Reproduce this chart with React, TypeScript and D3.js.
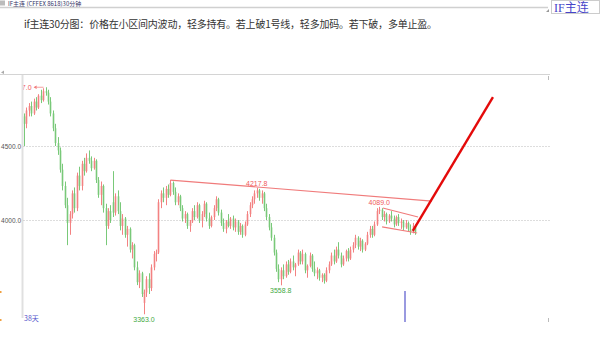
import React from "react";
import * as d3 from "d3";

// [open, high, low, close] per 30-minute bar
const candles: [number, number, number, number][] = [
  [4700, 4720, 4500, 4650], [4650, 4760, 4620, 4740], [4740, 4790, 4700, 4770], [4770, 4800, 4700, 4720],
  [4720, 4820, 4710, 4800], [4800, 4830, 4740, 4760], [4760, 4850, 4750, 4840], [4840, 4880, 4790, 4810],
  [4810, 4890, 4800, 4870], [4870, 4897, 4840, 4860], [4860, 4880, 4780, 4800], [4800, 4830, 4700, 4720],
  [4720, 4740, 4600, 4620], [4620, 4650, 4500, 4520], [4520, 4560, 4440, 4470], [4470, 4490, 4320, 4340],
  [4340, 4380, 4200, 4230], [4230, 4260, 4080, 4100], [4100, 4150, 3830, 3980], [3980, 4060, 3900, 4040],
  [4040, 4200, 4010, 4180], [4180, 4220, 4050, 4080], [4080, 4320, 4060, 4300], [4300, 4360, 4200, 4230],
  [4230, 4400, 4200, 4380], [4380, 4420, 4300, 4330], [4330, 4450, 4320, 4420], [4420, 4470, 4380, 4400],
  [4400, 4430, 4330, 4350], [4350, 4420, 4340, 4400], [4400, 4410, 4250, 4270], [4270, 4290, 4150, 4170],
  [4170, 4260, 4100, 4230], [4230, 4240, 4050, 4080], [4080, 4110, 3830, 3960], [3960, 4080, 3940, 4060],
  [4060, 4100, 3980, 4000], [4120, 4330, 4020, 4050], [4050, 4180, 4030, 4160], [4160, 4200, 4040, 4060],
  [4060, 4120, 3930, 3960], [3960, 4040, 3900, 4010], [4010, 4020, 3880, 3900], [3900, 3960, 3820, 3940],
  [3940, 3950, 3780, 3800], [3800, 3850, 3740, 3830], [3830, 3840, 3660, 3680], [3680, 3720, 3560, 3580],
  [3580, 3660, 3540, 3640], [3640, 3650, 3480, 3500], [3440, 3530, 3363, 3510], [3510, 3620, 3480, 3600],
  [3600, 3640, 3500, 3540], [3540, 3700, 3520, 3680], [3680, 3790, 3660, 3770], [3770, 3800, 3720, 3780],
  [3780, 4140, 3770, 4120], [4120, 4200, 4080, 4180], [4180, 4220, 4120, 4150], [4150, 4230, 4100, 4210],
  [4210, 4240, 4150, 4170], [4170, 4270, 4160, 4250], [4250, 4260, 4170, 4190], [4190, 4220, 4100, 4120],
  [4120, 4180, 4100, 4160], [4160, 4170, 4060, 4080], [4080, 4100, 3990, 4010], [4010, 4060, 3980, 4040],
  [4040, 4050, 3940, 3960], [3960, 4000, 3920, 3990], [3990, 4080, 3980, 4060], [4060, 4100, 4000, 4020],
  [4020, 4120, 4010, 4100], [4100, 4110, 3980, 4000], [4000, 4060, 3950, 4040], [4040, 4130, 4020, 4110],
  [4110, 4120, 3990, 4010], [4010, 4050, 3940, 3960], [3960, 4030, 3950, 4020], [4020, 4100, 4000, 4080],
  [4080, 4160, 4060, 4140], [4140, 4150, 4030, 4050], [4050, 4070, 3960, 3980], [3980, 4010, 3920, 3940],
  [3940, 4000, 3910, 3990], [3990, 4040, 3950, 3960], [3960, 4020, 3940, 4010], [4010, 4030, 3930, 3950],
  [3950, 4010, 3920, 3990], [3990, 4000, 3900, 3920], [3920, 3980, 3900, 3960], [3960, 3970, 3880, 3900],
  [3900, 3990, 3890, 3970], [3970, 4060, 3960, 4040], [4040, 4120, 4020, 4100], [4100, 4160, 4080, 4140],
  [4140, 4200, 4110, 4180], [4180, 4217.8, 4150, 4200], [4200, 4210, 4130, 4150], [4150, 4200, 4110, 4180],
  [4180, 4190, 4060, 4080], [4080, 4110, 4000, 4020], [4020, 4040, 3930, 3950], [3950, 3980, 3860, 3880],
  [3880, 3900, 3760, 3780], [3780, 3800, 3650, 3670], [3670, 3700, 3580, 3600], [3600, 3680, 3558.8, 3660],
  [3660, 3700, 3600, 3620], [3620, 3720, 3610, 3700], [3700, 3730, 3630, 3650], [3650, 3740, 3640, 3720],
  [3720, 3760, 3660, 3680], [3680, 3710, 3620, 3700], [3700, 3800, 3690, 3780], [3780, 3790, 3700, 3720],
  [3720, 3800, 3700, 3770], [3770, 3780, 3640, 3660], [3660, 3700, 3610, 3690], [3690, 3780, 3680, 3760],
  [3760, 3770, 3650, 3670], [3670, 3720, 3620, 3640], [3640, 3680, 3600, 3660], [3660, 3670, 3590, 3610],
  [3610, 3640, 3580, 3630], [3630, 3640, 3570, 3590], [3590, 3680, 3580, 3660], [3660, 3720, 3640, 3700],
  [3700, 3780, 3690, 3760], [3760, 3800, 3700, 3720], [3720, 3820, 3710, 3800], [3800, 3850, 3740, 3760],
  [3760, 3780, 3680, 3700], [3700, 3760, 3690, 3740], [3740, 3800, 3720, 3790], [3790, 3810, 3720, 3740],
  [3740, 3820, 3730, 3800], [3800, 3850, 3780, 3830], [3830, 3900, 3810, 3880], [3880, 3890, 3800, 3820],
  [3820, 3880, 3790, 3860], [3860, 3870, 3780, 3800], [3800, 3850, 3790, 3840], [3840, 3920, 3830, 3900],
  [3900, 3960, 3880, 3940], [3940, 3960, 3880, 3900], [3900, 3990, 3890, 3970], [3970, 4080, 3960, 4060],
  [4060, 4089, 4040, 4070], [4070, 4080, 4000, 4020], [4020, 4060, 3990, 4040], [4040, 4050, 3970, 3990],
  [3990, 4040, 3980, 4030], [4030, 4060, 3990, 4010], [4010, 4030, 3950, 3970], [3970, 4030, 3960, 4020],
  [4020, 4040, 3960, 3980], [3980, 4010, 3940, 3990], [3990, 4000, 3930, 3950], [3950, 4000, 3940, 3980],
  [3980, 3990, 3920, 3940], [3940, 3970, 3900, 3920], [3920, 3980, 3910, 3960], [3960, 3970, 3900, 3920],
];

const priceTicks = [4500, 4000];

// marked extremes: [bar index, price, label, placement]
const extremes: [number, number, string, string][] = [
  [97, 4217.8, "4217.8", "above"],
  [148, 4089, "4089.0", "above"],
  [107, 3558.8, "3558.8", "below"],
  [50, 3363, "3363.0", "below"],
];

// trend lines in [bar index, price]
const resistanceLine: [number, number][] = [[61, 4270], [170, 4128]];
const channelUpper: [number, number][] = [[149.5, 4081], [164.2, 4020]];
const channelLower: [number, number][] = [[149.2, 3953], [163.8, 3912]];
const breakoutLine: [number, number][] = [[162, 3926], [195.4, 4831]];

const title = "IF主连  (CFFEX 8618)30分钟";
const note = "if主连30分图：价格在小区间内波动，轻多持有。若上破1号线，轻多加码。若下破，多单止盈。";
const peakLabel = "4897.0";
const periodLabel = "38天";

const UP = "#f26d6d";
const DOWN = "#62c062";

export default function App() {
  const x = d3.scaleLinear().domain([0, candles.length - 1]).range([24, 415.2]);
  const y = d3.scaleLinear().domain([4000, 4500]).range([220, 146]);
  const line = d3.line<[number, number]>().x((d) => x(d[0])).y((d) => y(d[1]));
  const bw = 1.6;
  const sans = "'Liberation Sans', Arial, sans-serif";
  const cjk = "'Noto Sans CJK SC', sans-serif";
  const peakIdx = 9;
  const peakY = y(4897);

  return (
    <svg width={600} height={355} style={{ position: "absolute", left: 0, top: 0, background: "#fff" }}>
      <defs>
        <clipPath id="plot">
          <rect x={23.5} y={76} width={600} height={260} />
        </clipPath>
      </defs>
      {/* header */}
      <rect x={0} y={0.5} width={5} height={5} fill="#bbb" />
      <text x={8} y={6.2} fontSize={6} fill="#336" fontFamily={cjk}>{title}</text>
      <line x1={0} x2={548} y1={7.5} y2={7.5} stroke="#d0d0d0" strokeWidth={1.5} />
      <path d="M546,12 L549,9 L549,12 Z" fill="#999" />
      <rect x={551.5} y={0.5} width={48} height={13} fill="#fff" stroke="#ccc" />
      <text x={554} y={11.5} fontSize={12} fill="#4646c8" fontFamily={"'Liberation Serif', " + cjk}>IF主连</text>

      <text x={24} y={28} fontSize={10} fill="#333" fontFamily={cjk} textLength={413} lengthAdjust="spacing">{note}</text>

      {/* frame */}
      <line x1={0} x2={550} y1={74.5} y2={74.5} stroke="#d4d4d4" strokeWidth={1.2} />
      <path d="M1,72.5 L4,70.5 L4,74 Z" fill="#aaa" />
      <line x1={22.5} x2={22.5} y1={75} y2={318} stroke="#e0e0e0" strokeWidth={2} />
      <line x1={548.5} x2={548.5} y1={76} y2={80} stroke="#bbb" />
      <line x1={548.5} x2={548.5} y1={318} y2={322} stroke="#bbb" />
      <rect x={0} y={291} width={1.5} height={2} fill="#f0a040" />
      <rect x={0} y={319} width={1.5} height={2} fill="#f0a040" />

      {priceTicks.map((p) => (
        <g key={p}>
          <line x1={23.5} x2={550} y1={y(p) + 0.5} y2={y(p) + 0.5} stroke="#bbb" strokeDasharray="1,2" />
          <text x={21} y={y(p) + 2.5} fontSize={6.5} textAnchor="end" fill="#555" fontFamily={sans}>
            {p.toFixed(1)}
          </text>
        </g>
      ))}

      {/* candles */}
      <g clipPath="url(#plot)">
        {candles.map((c, i) => {
          const [o, h, l, cl] = c;
          const col = cl >= o ? UP : DOWN;
          const cx = Math.round(x(i)) + 0.5;
          const top = y(Math.max(o, cl));
          const bot = y(Math.min(o, cl));
          return (
            <g key={i} opacity={0.85}>
              <line x1={cx} x2={cx} y1={y(h)} y2={y(l)} stroke={col} strokeWidth={1} />
              <rect x={cx - bw / 2} y={top} width={bw} height={Math.max(1, bot - top)} fill={col} />
            </g>
          );
        })}
        <text x={x(peakIdx) - 14} y={peakY + 2.5} fontSize={7} textAnchor="end" fill="#f05a5a" fontFamily={sans}>
          {peakLabel}
        </text>
      </g>
      <path d={`M${x(peakIdx) - 12},${peakY} l3,-1.8 l0,3.6 Z`} fill="#f07070" />
      <line x1={x(peakIdx) - 10} x2={x(peakIdx) - 2} y1={peakY} y2={peakY} stroke="#f5a0a0" strokeWidth={1} />

      {/* trend lines */}
      <path d={line(resistanceLine) ?? ""} stroke="#f07b7b" strokeWidth={1.2} fill="none" />
      <path d={line(channelUpper) ?? ""} stroke="#f07b7b" strokeWidth={1.2} fill="none" />
      <path d={line(channelLower) ?? ""} stroke="#f07b7b" strokeWidth={1.2} fill="none" />
      <path d={line(breakoutLine) ?? ""} stroke="#e40a0a" strokeWidth={2.4} fill="none" />

      {extremes.map(([i, p, lbl, place]) => (
        <text
          key={lbl}
          x={x(i)}
          y={place === "above" ? y(p) - 2 : y(p) + 8}
          fontSize={7}
          textAnchor="middle"
          fill={place === "above" ? "#f05a5a" : "#3fa93f"}
          fontFamily={sans}
        >
          {lbl}
        </text>
      ))}

      <text x={24} y={321} fontSize={7} fill="#5555cc" fontFamily={cjk}>{periodLabel}</text>
      <rect x={404} y={291} width={2} height={31} fill="#9a9ae0" />
    </svg>
  );
}
